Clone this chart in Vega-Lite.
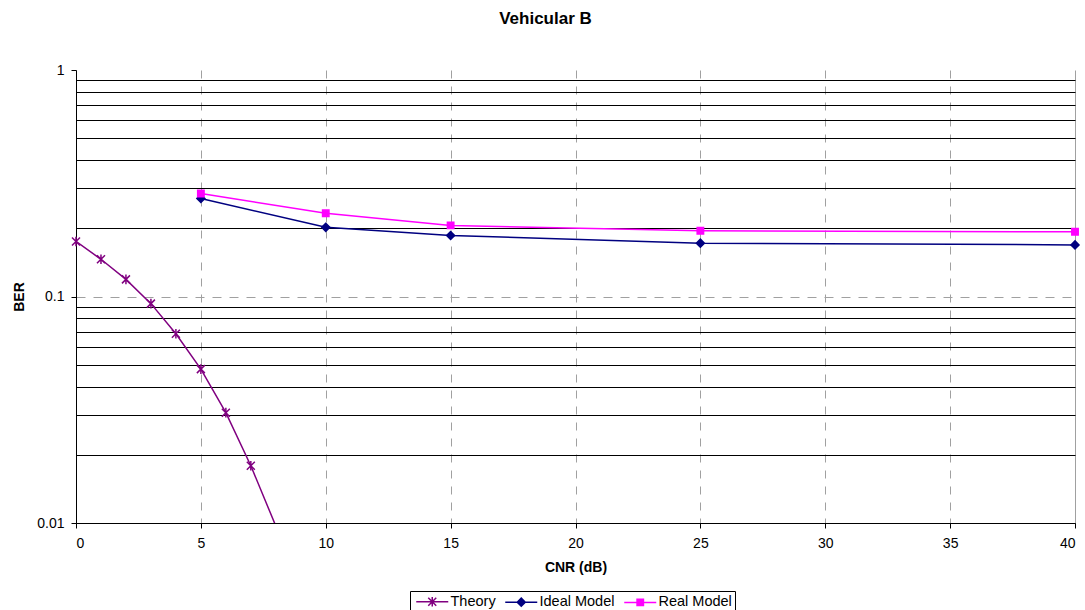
{
  "$schema": "https://vega.github.io/schema/vega-lite/v6.json",
  "width": 999,
  "height": 453,
  "autosize": {"type": "none"},
  "padding": {"left": 76, "top": 70, "right": 10, "bottom": 87},
  "background": "white",
  "title": {"text": "Vehicular B", "font": "Liberation Sans", "fontSize": 17, "fontWeight": "bold", "color": "black", "offset": 35, "dx": -30},
  "config": {
    "view": {"stroke": null},
    "font": "Liberation Sans",
    "axis": {"labelFont": "Liberation Sans", "labelFontSize": 14, "labelColor": "black", "titleFont": "Liberation Sans", "titleFontSize": 14, "titleFontWeight": "bold", "titleColor": "black", "domainColor": "black", "tickColor": "black", "tickSize": 5},
    "legend": {"orient": "none", "legendX": 334, "legendY": 521, "direction": "horizontal", "labelFont": "Liberation Sans", "labelFontSize": 14.5, "labelColor": "black", "strokeColor": "black", "fillColor": "white", "padding": 3, "symbolSize": 64, "symbolStrokeWidth": 1.5, "symbolOffset": 12, "labelOffset": 11, "columnPadding": 6}
  },
  "data": {"values": [
    {"series": "Theory", "cnr": 0, "ber": 0.175},
    {"series": "Theory", "cnr": 1, "ber": 0.146},
    {"series": "Theory", "cnr": 2, "ber": 0.119},
    {"series": "Theory", "cnr": 3, "ber": 0.093},
    {"series": "Theory", "cnr": 4, "ber": 0.0685},
    {"series": "Theory", "cnr": 5, "ber": 0.0478},
    {"series": "Theory", "cnr": 6, "ber": 0.0307},
    {"series": "Theory", "cnr": 7, "ber": 0.0179},
    {"series": "Theory", "cnr": 8, "ber": 0.0097},
    {"series": "Ideal Model", "cnr": 5, "ber": 0.271},
    {"series": "Ideal Model", "cnr": 10, "ber": 0.202},
    {"series": "Ideal Model", "cnr": 15, "ber": 0.186},
    {"series": "Ideal Model", "cnr": 25, "ber": 0.172},
    {"series": "Ideal Model", "cnr": 40, "ber": 0.169},
    {"series": "Real Model", "cnr": 5, "ber": 0.285},
    {"series": "Real Model", "cnr": 10, "ber": 0.233},
    {"series": "Real Model", "cnr": 15, "ber": 0.206},
    {"series": "Real Model", "cnr": 25, "ber": 0.195},
    {"series": "Real Model", "cnr": 40, "ber": 0.193}
  ]},
  "encoding": {
    "x": {"field": "cnr", "type": "quantitative", "title": "CNR (dB)",
      "scale": {"domain": [0, 40], "nice": false, "zero": false},
      "axis": {"values": [0, 5, 10, 15, 20, 25, 30, 35, 40], "grid": true, "gridColor": "#a0a0a0", "gridDash": {"condition": {"test": "datum.value == 40", "value": []}, "value": [8, 8]}, "labelPadding": 8, "titlePadding": 10}},
    "y": {"field": "ber", "type": "quantitative", "title": "BER",
      "scale": {"type": "log", "domain": [0.01, 1], "nice": false},
      "axis": {"values": [0.01, 0.02, 0.03, 0.04, 0.05, 0.06, 0.07, 0.08, 0.09, 0.1, 0.2, 0.3, 0.4, 0.5, 0.6, 0.7, 0.8, 0.9, 1],
        "labelExpr": "datum.value == 1 ? '1' : datum.value == 0.1 ? '0.1' : datum.value == 0.01 ? '0.01' : ''",
        "grid": true,
        "gridColor": {"condition": {"test": "datum.value == 0.1", "value": "#a0a0a0"}, "value": "black"},
        "gridOpacity": {"condition": {"test": "datum.value == 1", "value": 0}, "value": 1},
        "gridDash": {"condition": {"test": "datum.value == 0.1", "value": [9, 8]}, "value": []},
        "tickOpacity": {"condition": {"test": "datum.value == 0.1 || datum.value == 1 || datum.value == 0.01", "value": 1}, "value": 0},
        "labelPadding": 7, "titlePadding": 10}}
  },
  "layer": [
    {
      "mark": {"type": "line", "clip": true, "strokeWidth": 1.5},
      "encoding": {
        "color": {"field": "series", "type": "nominal", "legend": null,
          "scale": {"domain": ["Theory", "Ideal Model", "Real Model"], "range": ["#800080", "#000080", "#FF00FF"]}}
      }
    },
    {
      "transform": [{"filter": "datum.ber >= 0.01"}],
      "mark": {"type": "point", "clip": false, "filled": true, "size": 64, "strokeWidth": 1.5, "opacity": 1},
      "encoding": {
        "fill": {"field": "series", "type": "nominal", "legend": null,
          "scale": {"domain": ["Theory", "Ideal Model", "Real Model"], "range": ["#800080", "#000080", "#FF00FF"]}},
        "stroke": {"field": "series", "type": "nominal", "legend": null,
          "scale": {"domain": ["Theory", "Ideal Model", "Real Model"], "range": ["#800080", "#000080", "#FF00FF"]}},
        "shape": {"field": "series", "type": "nominal", "legend": null,
          "scale": {"domain": ["Theory", "Ideal Model", "Real Model"], "range": ["M-1,-1L1,1M-1,1L1,-1M0,-1.2V1.2", "M0,-1L1,0L0,1L-1,0Z", "M-0.8,-0.8H0.8V0.8H-0.8Z"]}}
      }
    },
    {
      "mark": {"type": "point", "clip": true, "filled": true, "size": 64, "strokeWidth": 1.5, "opacity": 0},
      "encoding": {
        "fill": {"field": "series", "type": "nominal",
          "legend": {"title": null, "encode": {"symbols": {"update": {"fill": {"signal": "datum.value == 'Theory' ? '#800080' : datum.value == 'Ideal Model' ? '#000080' : '#FF00FF'"}, "stroke": {"signal": "datum.value == 'Theory' ? '#800080' : datum.value == 'Ideal Model' ? '#000080' : '#FF00FF'"}, "opacity": {"value": 1}}}}},
          "scale": {"domain": ["Theory", "Ideal Model", "Real Model"], "range": ["#800080", "#000080", "#FF00FF"]}},
        "stroke": {"field": "series", "type": "nominal",
          "legend": {"title": null, "encode": {"symbols": {"update": {"fill": {"signal": "datum.value == 'Theory' ? '#800080' : datum.value == 'Ideal Model' ? '#000080' : '#FF00FF'"}, "stroke": {"signal": "datum.value == 'Theory' ? '#800080' : datum.value == 'Ideal Model' ? '#000080' : '#FF00FF'"}, "opacity": {"value": 1}}}}},
          "scale": {"domain": ["Theory", "Ideal Model", "Real Model"], "range": ["#800080", "#000080", "#FF00FF"]}},
        "shape": {"field": "series", "type": "nominal",
          "legend": {"title": null, "encode": {"symbols": {"update": {"fill": {"signal": "datum.value == 'Theory' ? '#800080' : datum.value == 'Ideal Model' ? '#000080' : '#FF00FF'"}, "stroke": {"signal": "datum.value == 'Theory' ? '#800080' : datum.value == 'Ideal Model' ? '#000080' : '#FF00FF'"}, "opacity": {"value": 1}}}}},
          "scale": {"domain": ["Theory", "Ideal Model", "Real Model"], "range": ["M-4,0H4M-1,-1L1,1M-1,1L1,-1M0,-1.2V1.2", "M-4,0H4M0,-1L1,0L0,1L-1,0Z", "M-4,0H4M-0.8,-0.8H0.8V0.8H-0.8Z"]}}
      }
    }
  ],
  "resolve": {"scale": {"fill": "independent", "stroke": "independent", "shape": "independent"}}
}
